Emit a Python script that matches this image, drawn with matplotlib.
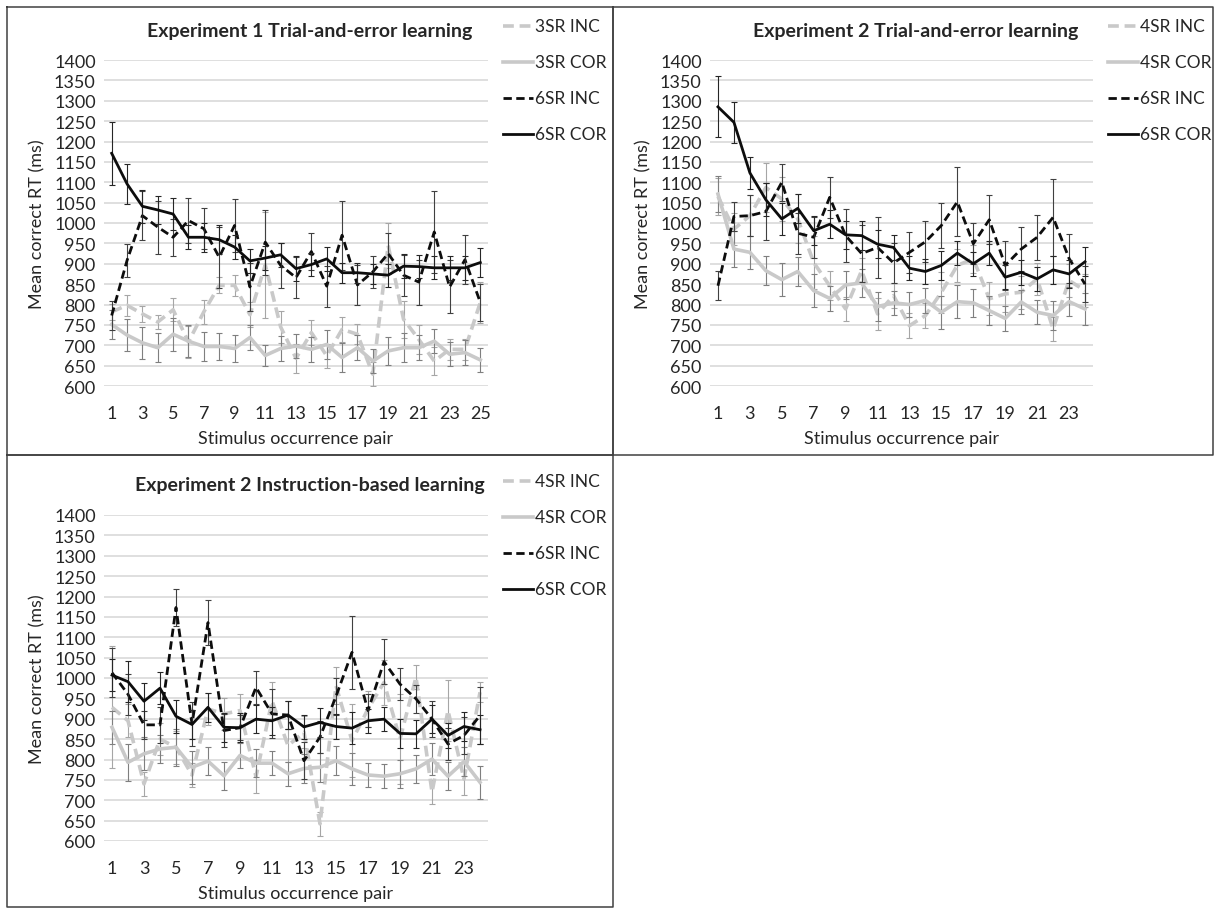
import matplotlib
matplotlib.use("Agg")
import matplotlib.pyplot as plt
from matplotlib.lines import Line2D

plt.rcParams['font.family'] = ['Lato', 'DejaVu Sans']

# ---- Experiment 1, trial-and-error (25 pairs) ----
p1_x = list(range(1, 26))
p1_inc3 = [782, 798, 777, 757, 787, 708, 782, 847, 847, 775, 897, 745, 668, 731, 674, 739, 727, 629, 945, 764, 714, 661, 690, 690, 805]
p1_cor3 = [751, 725, 706, 694, 727, 710, 697, 697, 692, 719, 675, 692, 698, 690, 702, 670, 694, 661, 686, 694, 694, 710, 678, 682, 664]
p1_inc6 = [773, 908, 1018, 990, 965, 1006, 986, 916, 994, 843, 953, 896, 866, 930, 845, 970, 848, 880, 925, 872, 855, 978, 843, 910, 805]
p1_cor6 = [1171, 1096, 1041, 1032, 1022, 965, 965, 959, 941, 907, 914, 922, 888, 898, 912, 878, 878, 875, 872, 894, 893, 890, 890, 890, 903]
p1_inc3_err = [20, 25, 20, 18, 28, 40, 30, 20, 25, 30, 130, 40, 35, 30, 30, 30, 25, 30, 55, 45, 35, 35, 25, 25, 50]
p1_cor3_err = [35, 40, 40, 35, 40, 40, 35, 32, 32, 30, 25, 30, 30, 30, 35, 35, 30, 30, 35, 35, 30, 30, 30, 30, 30]
p1_inc6_err = [35, 40, 60, 65, 45, 55, 50, 75, 65, 60, 80, 55, 50, 45, 50, 85, 50, 40, 50, 50, 55, 100, 65, 60, 45]
p1_cor6_err = [78, 50, 40, 35, 40, 30, 35, 35, 30, 30, 30, 30, 30, 28, 30, 25, 25, 25, 28, 30, 28, 28, 30, 30, 35]

# ---- Experiment 2, trial-and-error (24 pairs) ----
p2_x = list(range(1, 25))
p2_inc4 = [1065, 985, 1018, 1087, 1059, 1010, 903, 846, 789, 883, 777, 822, 748, 773, 830, 896, 912, 814, 826, 830, 863, 740, 859, 834]
p2_cor4 = [1071, 936, 928, 883, 861, 881, 834, 815, 848, 853, 795, 804, 800, 810, 781, 807, 804, 785, 766, 806, 781, 773, 807, 789]
p2_inc6 = [846, 1016, 1018, 1028, 1100, 975, 965, 1063, 969, 925, 940, 902, 928, 954, 994, 1052, 949, 1008, 896, 936, 965, 1014, 913, 850]
p2_cor6 = [1285, 1247, 1123, 1057, 1010, 1036, 981, 997, 971, 969, 948, 940, 889, 881, 896, 926, 900, 926, 867, 879, 863, 885, 875, 905]
p2_inc4_err = [45, 40, 50, 60, 55, 60, 65, 35, 30, 30, 40, 30, 30, 30, 50, 40, 35, 40, 45, 40, 40, 30, 40, 40]
p2_cor4_err = [45, 45, 40, 35, 40, 35, 40, 30, 35, 35, 35, 30, 30, 30, 40, 40, 35, 35, 30, 30, 30, 35, 35, 40]
p2_inc6_err = [35, 35, 50, 70, 45, 50, 50, 50, 65, 70, 75, 50, 50, 50, 55, 85, 50, 60, 60, 55, 55, 95, 60, 45]
p2_cor6_err = [75, 50, 40, 40, 40, 35, 35, 35, 35, 35, 35, 30, 30, 30, 35, 30, 30, 30, 30, 30, 30, 35, 35, 35]

# ---- Experiment 2, instruction-based (24 pairs) ----
p3_x = list(range(1, 25))
p3_inc4 = [928, 895, 740, 850, 830, 762, 924, 912, 920, 758, 944, 834, 867, 642, 981, 846, 924, 989, 850, 1002, 720, 920, 752, 965]
p3_cor4 = [879, 793, 814, 826, 830, 781, 796, 760, 810, 791, 791, 765, 778, 781, 797, 777, 762, 759, 765, 777, 801, 759, 795, 744]
p3_inc6 = [1013, 960, 885, 885, 1173, 887, 1136, 871, 878, 977, 912, 909, 797, 855, 955, 1063, 920, 1040, 985, 949, 899, 838, 859, 908]
p3_cor6 = [1007, 991, 943, 975, 906, 886, 928, 879, 878, 899, 895, 909, 880, 891, 881, 877, 895, 899, 864, 863, 899, 859, 881, 873]
p3_inc4_err = [150, 40, 30, 40, 40, 30, 40, 40, 40, 40, 45, 40, 40, 30, 45, 90, 45, 55, 110, 30, 30, 75, 40, 25]
p3_cor4_err = [40, 45, 40, 35, 45, 40, 35, 35, 30, 35, 30, 30, 35, 35, 35, 40, 30, 30, 35, 35, 40, 35, 35, 40]
p3_inc6_err = [60, 50, 35, 45, 45, 55, 55, 40, 30, 40, 60, 35, 45, 40, 45, 90, 40, 55, 40, 35, 45, 40, 45, 70]
p3_cor6_err = [40, 50, 45, 40, 40, 35, 35, 35, 35, 35, 35, 35, 30, 35, 30, 40, 30, 30, 35, 35, 35, 30, 35, 35]

W, H = 1215, 912
GRAY = '#c9c9c9'
BLACK = '#0d0d0d'
TXT = '#262626'
DASH = (3.0, 1.6)
LW_GRAY = 2.6
LW_BLACK = 2.0

fig = plt.figure(figsize=(W / 100, H / 100), dpi=100)
fig.patch.set_facecolor('white')


def px_box(x0, y0, x1, y1):
    return [x0 / W, 1 - y1 / H, (x1 - x0) / W, (y1 - y0) / H]


def series(ax, x, y, err, color, ecolor, lw, dashed, z):
    ax.errorbar(x, y, yerr=err, fmt='none', ecolor=ecolor, elinewidth=0.8,
                capsize=2.5, capthick=0.8, zorder=z)
    ln, = ax.plot(x, y, color=color, lw=lw, zorder=z + 0.5)
    if dashed:
        ln.set_dashes(DASH)


def panel(box, x, inc_a, cor_a, inc6, cor6, errs, title, title_xy, labels, leg_x, leg_y):
    ax = fig.add_axes(px_box(*box))
    series(ax, x, inc_a, errs[0], GRAY, '#a6a6a6', LW_GRAY, True, 3)
    series(ax, x, cor_a, errs[1], GRAY, '#7f7f7f', LW_GRAY, False, 4)
    series(ax, x, inc6, errs[2], BLACK, '#404040', LW_BLACK, True, 5)
    series(ax, x, cor6, errs[3], BLACK, '#262626', LW_BLACK, False, 6)
    ax.set_xlim(0.5, len(x) + 0.5)
    ax.set_ylim(600, 1400)
    ax.set_yticks(range(600, 1401, 50))
    ax.set_xticks(x[::2])
    ax.yaxis.grid(True, color='#d9d9d9', lw=1.2, zorder=0)
    ax.set_axisbelow(True)
    for s in ax.spines.values():
        s.set_visible(False)
    ax.tick_params(length=0, labelsize=13, colors=TXT, pad=6)
    ax.tick_params(axis='x', pad=14)
    ax.set_xlabel('Stimulus occurrence pair', fontsize=13, color=TXT, labelpad=6)
    ax.set_ylabel('Mean correct RT (ms)', fontsize=13, color=TXT, labelpad=6)
    fig.text(title_xy[0] / W, 1 - title_xy[1] / H, title, fontsize=14,
             fontweight='bold', color=TXT, ha='center', va='center')
    styles = [(GRAY, True, LW_GRAY), (GRAY, False, LW_GRAY),
              (BLACK, True, LW_BLACK), (BLACK, False, LW_BLACK)]
    for i, (lab, (c, d, lw)) in enumerate(zip(labels, styles)):
        yy = 1 - (leg_y + 36 * i) / H
        ln = Line2D([leg_x / W, (leg_x + 30) / W], [yy, yy], color=c, lw=lw,
                    transform=fig.transFigure)
        if d:
            ln.set_dashes(DASH)
        fig.add_artist(ln)
        fig.text((leg_x + 32) / W, yy, lab, fontsize=12.5, color=TXT, va='center')
    return ax


panel((104, 61, 488, 387), p1_x, p1_inc3, p1_cor3, p1_inc6, p1_cor6,
      [p1_inc3_err, p1_cor3_err, p1_inc6_err, p1_cor6_err],
      'Experiment 1 Trial-and-error learning', (310, 31),
      ['3SR INC', '3SR COR', '6SR INC', '6SR COR'], 503, 27)

panel((710, 61, 1093, 387), p2_x, p2_inc4, p2_cor4, p2_inc6, p2_cor6,
      [p2_inc4_err, p2_cor4_err, p2_inc6_err, p2_cor6_err],
      'Experiment 2 Trial-and-error learning', (916, 31),
      ['4SR INC', '4SR COR', '6SR INC', '6SR COR'], 1108, 27)

panel((104, 516, 488, 842), p3_x, p3_inc4, p3_cor4, p3_inc6, p3_cor6,
      [p3_inc4_err, p3_cor4_err, p3_inc6_err, p3_cor6_err],
      'Experiment 2 Instruction-based learning', (310, 486),
      ['4SR INC', '4SR COR', '6SR INC', '6SR COR'], 503, 482)


# panel frames
def frame(x0, y0, x1, y1):
    xs = [x0, x1, x1, x0, x0]
    ys = [y0, y0, y1, y1, y0]
    fig.add_artist(Line2D([v / W for v in xs], [1 - v / H for v in ys],
                          color='#404040', lw=1.1, transform=fig.transFigure))


frame(7, 8, 613, 456)
frame(613, 8, 1213, 456)
frame(7, 456, 613, 908)

fig.savefig('out.png', dpi=100, facecolor='white')
